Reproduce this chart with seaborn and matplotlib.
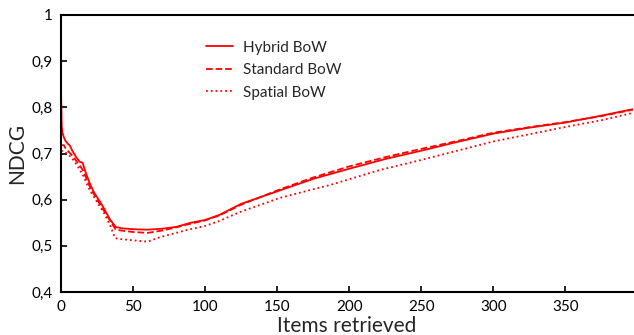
import matplotlib
matplotlib.use("Agg")
import matplotlib.pyplot as plt
from matplotlib.ticker import FuncFormatter
import pandas as pd
import seaborn as sns

# values
hybrid_x = [0, 0.5, 1, 2, 3, 5, 6, 8, 9, 11, 13, 15, 17, 20, 23, 27, 30, 34, 38, 42,
            50, 60, 70, 80, 90, 100, 110, 125, 150, 175, 200, 225, 250, 275, 300,
            325, 350, 375, 397]
hybrid_y = [0.834, 0.76, 0.745, 0.735, 0.728, 0.72, 0.718, 0.705, 0.70, 0.69, 0.682,
            0.68, 0.66, 0.635, 0.615, 0.596, 0.58, 0.557, 0.541, 0.538, 0.536, 0.535,
            0.537, 0.541, 0.550, 0.556, 0.567, 0.591, 0.618, 0.645, 0.667, 0.688,
            0.706, 0.725, 0.743, 0.756, 0.767, 0.782, 0.796]

standard_x = [0, 2, 3, 5, 8, 11, 15, 20, 25, 30, 34, 38, 42, 50, 60, 70, 80, 90, 100,
              110, 125, 150, 175, 200, 225, 250, 275, 300, 325, 350, 375, 397]
standard_y = [0.718, 0.718, 0.712, 0.705, 0.695, 0.682, 0.665, 0.628, 0.60, 0.575,
              0.555, 0.535, 0.533, 0.530, 0.528, 0.533, 0.540, 0.548, 0.555, 0.566,
              0.589, 0.620, 0.648, 0.672, 0.692, 0.710, 0.727, 0.745, 0.757, 0.768,
              0.781, 0.795]

spatial_x = [0, 2, 4, 6, 8.5, 12, 15, 20, 25, 30, 34, 37.5, 40, 50, 60, 69, 87, 100,
             110, 124, 152, 187, 221, 250, 300, 351, 375, 397]
spatial_y = [0.705, 0.705, 0.70, 0.695, 0.686, 0.67, 0.655, 0.62, 0.595, 0.57, 0.545,
             0.517, 0.515, 0.512, 0.509, 0.519, 0.534, 0.543, 0.554, 0.573, 0.604,
             0.632, 0.664, 0.686, 0.726, 0.758, 0.772, 0.788]

x_ticks = [0, 50, 100, 150, 200, 250, 300, 350]
y_ticks = [0.4, 0.5, 0.6, 0.7, 0.8, 0.9, 1.0]

sns.set_style("ticks")
plt.rcParams["font.family"] = ["Lato", "DejaVu Sans"]

fig = plt.figure(figsize=(6.34, 3.35), dpi=100)
ax = fig.add_axes([61 / 634, 1 - 292 / 335, 572 / 634, 277 / 335])

series = [
    ("Hybrid BoW", hybrid_x, hybrid_y, "-"),
    ("Standard BoW", standard_x, standard_y, "--"),
    ("Spatial BoW", spatial_x, spatial_y, ":"),
]
for name, xs, ys, ls in series:
    df = pd.DataFrame({"items": xs, "ndcg": ys})
    sns.lineplot(data=df, x="items", y="ndcg", ax=ax, color="#ff0000",
                 linestyle=ls, linewidth=1.3, label=name)

ax.set_xlim(0, 397)
ax.set_ylim(0.4, 1.0)
ax.set_xticks(x_ticks)
ax.set_yticks(y_ticks)
ax.yaxis.set_major_formatter(FuncFormatter(lambda v, p: f"{v:g}".replace(".", ",")))
ax.tick_params(direction="in", length=4, width=1.2, labelsize=11, colors="black", pad=6)
for side in ["left", "bottom", "top"]:
    ax.spines[side].set_linewidth(1.5)
    ax.spines[side].set_color("black")
ax.spines["right"].set_visible(False)

ax.set_xlabel("Items retrieved", fontsize=15, labelpad=1)
ax.set_ylabel("NDCG", fontsize=15, labelpad=3)

ax.legend(loc="upper left", bbox_to_anchor=(192 / 634, 1 - 27 / 335),
          bbox_transform=fig.transFigure, frameon=False, fontsize=11,
          handlelength=1.8, handletextpad=0.65, labelspacing=0.55)

fig.savefig("out.png", dpi=100)
